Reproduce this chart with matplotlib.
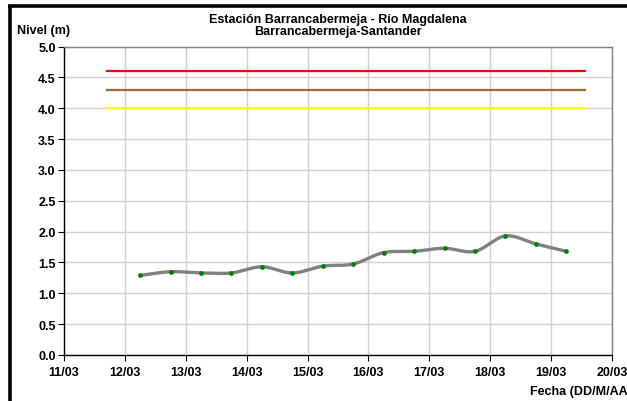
import numpy as np
import matplotlib
matplotlib.use("Agg")
import matplotlib.pyplot as plt
from matplotlib.lines import Line2D

# ---- data ----
x_ticks = [0, 1, 2, 3, 4, 5, 6, 7, 8, 9]          # days from 11/03
x_labels = ["11/03", "12/03", "13/03", "14/03", "15/03",
            "16/03", "17/03", "18/03", "19/03", "20/03"]
t_days = [1.25, 1.75, 2.25, 2.75, 3.25, 3.75, 4.25, 4.75,
          5.25, 5.75, 6.25, 6.75, 7.25, 7.75, 8.25]
nivel = [1.29, 1.35, 1.33, 1.33, 1.43, 1.33, 1.44, 1.475,
         1.66, 1.68, 1.73, 1.68, 1.93, 1.80, 1.68]
umbral_x = [0.7, 8.55]
umbral_rojo = 4.6
umbral_naranja = 4.3
umbral_amarillo = 4.0

plt.rcParams['font.family'] = ['Liberation Sans', 'DejaVu Sans']

def catmull_rom(x, y, n=20):
    x = np.asarray(x, float); y = np.asarray(y, float)
    px = np.concatenate([[2*x[0]-x[1]], x, [2*x[-1]-x[-2]]])
    py = np.concatenate([[2*y[0]-y[1]], y, [2*y[-1]-y[-2]]])
    xs, ys = [], []
    for i in range(1, len(px)-2):
        t = np.linspace(0, 1, n, endpoint=False)
        for P, out in ((px, xs), (py, ys)):
            p0, p1, p2, p3 = P[i-1], P[i], P[i+1], P[i+2]
            out.extend(0.5*((2*p1) + (-p0+p2)*t + (2*p0-5*p1+4*p2-p3)*t**2
                            + (-p0+3*p1-3*p2+p3)*t**3))
    xs.append(x[-1]); ys.append(y[-1])
    return np.array(xs), np.array(ys)

fig = plt.figure(figsize=(6.27, 4.02), dpi=100)
ax = fig.add_axes([64/627, 1-356/402, (612-64)/627, (356-47.5)/402])

ax.set_xlim(0, 9)
ax.set_ylim(0, 5)
ax.set_xticks(x_ticks)
ax.set_xticklabels(x_labels)
ax.set_yticks(np.arange(0, 5.01, 0.5))
ax.set_yticklabels([f"{v:.1f}" for v in np.arange(0, 5.01, 0.5)])
ax.grid(True, color='#d0d0d0', linewidth=1.0)
ax.set_axisbelow(True)
for lab in ax.get_xticklabels() + ax.get_yticklabels():
    lab.set_fontweight('bold')
    lab.set_fontsize(9)
ax.tick_params(axis='both', direction='out', length=4, width=0.8, color='black', pad=2)
ax.tick_params(axis='x', pad=4)
ax.spines['left'].set_color('black')
ax.spines['bottom'].set_color('black')
ax.spines['right'].set_color('#808080')
ax.spines['top'].set_color('#808080')
for s in ax.spines.values():
    s.set_linewidth(1.0)

ax.plot(umbral_x, [umbral_rojo]*2, color='#ff0000', lw=1.6)
ax.plot(umbral_x, [umbral_naranja]*2, color='#a0693c', lw=1.6)
ax.plot(umbral_x, [umbral_amarillo]*2, color='#ffff00', lw=1.6)

sx, sy = catmull_rom(t_days, nivel)
ax.plot(sx, sy, color='#808080', lw=2.4, solid_capstyle='round')
ax.plot(t_days, nivel, linestyle='none', marker='o', markersize=3.4,
        color='#008000', markeredgewidth=0)

fig.text(338/627, 1-19.5/402, "Estación Barrancabermeja - Río Magdalena",
         ha='center', va='center', fontsize=9, fontweight='bold')
fig.text(338/627, 1-32.5/402, "Barrancabermeja-Santander",
         ha='center', va='center', fontsize=9, fontweight='bold')
fig.text(17/627, 1-31/402, "Nivel (m)", ha='left', va='center', fontsize=9, fontweight='bold')
fig.text(530/627, 1-392/402, "Fecha (DD/M/AAAA)", ha='left', va='center', fontsize=9, fontweight='bold')

# outer frame (left and top visible)
fig.add_artist(Line2D([9.5/627, 9.5/627], [0, 1-6.5/402], transform=fig.transFigure,
                      color='black', lw=2.6, solid_capstyle='butt'))
fig.add_artist(Line2D([8/627, 1.0], [1-6.5/402, 1-6.5/402], transform=fig.transFigure,
                      color='black', lw=2.6, solid_capstyle='butt'))

fig.savefig("out.png", dpi=100)
